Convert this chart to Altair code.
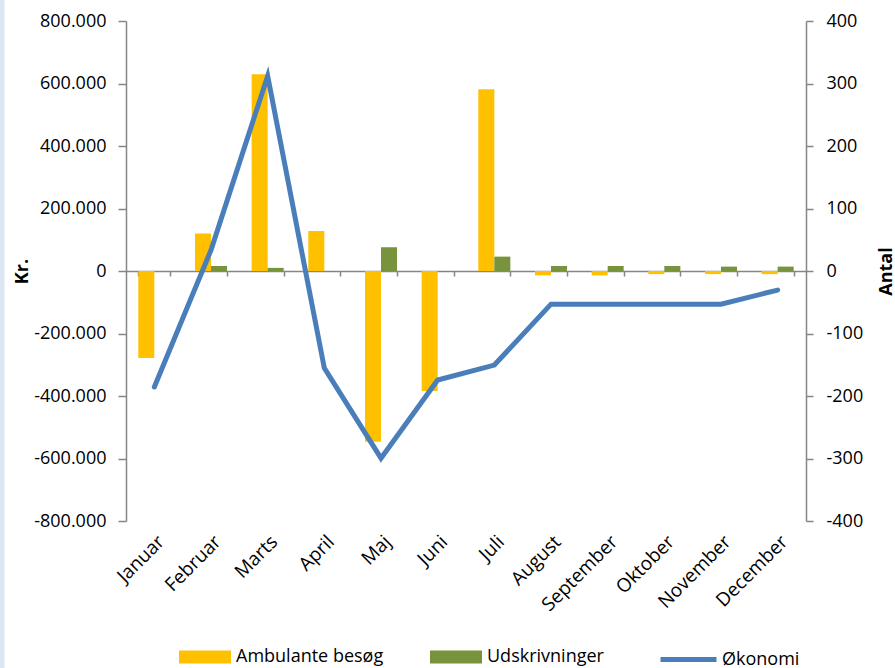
import altair as alt
import pandas as pd

months = ["Januar", "Februar", "Marts", "April", "Maj", "Juni", "Juli",
          "August", "September", "Oktober", "November", "December"]
ambulante = [-139, 60, 315, 64, -273, -192, 291, -7, -7, -5, -5, -5]
udskrivninger = [0, 8, 5, -1, 38, -1, 23, 8, 8, 8, 7, 7]
okonomi = [-371000, 67000, 624000, -311000, -599000, -349000, -301000,
           -106000, -106000, -106000, -106000, -61000]

bar_series = ["Ambulante besøg", "Udskrivninger"]
line_series = ["Økonomi"]
kr_ticks = list(range(-800000, 800001, 200000))
antal_ticks = list(range(-400, 401, 100))

bars_df = pd.DataFrame(
    [{"month": m, "series": bar_series[0], "value": v} for m, v in zip(months, ambulante)]
    + [{"month": m, "series": bar_series[1], "value": v} for m, v in zip(months, udskrivninger)]
)
line_df = pd.DataFrame({"month": months, "value": okonomi, "name": line_series[0]})

FONT = "Open Sans"
GRAY = "#868686"

x_scale = alt.Scale(domain=months, paddingInner=0.435, paddingOuter=0.2175)
x_axis = alt.Axis(
    orient="bottom", offset=-250, title=None, labelAngle=-45, labelPadding=256,
    tickBand="extent", tickSize=5, tickColor=GRAY, tickWidth=1.5,
    domainColor=GRAY, domainWidth=1.5, labelFont=FONT, labelFontSize=19,
    labelColor="#000000", grid=False,
)

bars = alt.Chart(bars_df).mark_bar().encode(
    x=alt.X("month:N", scale=x_scale, sort=months, axis=x_axis),
    xOffset=alt.XOffset("series:N", sort=bar_series,
                        scale=alt.Scale(domain=bar_series, paddingInner=0, paddingOuter=0)),
    y=alt.Y("value:Q", scale=alt.Scale(domain=[-400, 400], nice=False),
            axis=alt.Axis(
                orient="right", values=antal_ticks, title="Antal", grid=False,
                labelExpr="(datum.value < 0 ? '-' : '') + format(abs(datum.value), 'd')",
                tickSize=7, tickColor=GRAY, tickWidth=1.5, domainColor=GRAY, domainWidth=1.5,
                labelPadding=13, labelFont=FONT, labelFontSize=18, labelColor="#000000",
                titleFont=FONT, titleFontSize=18, titleFontWeight="bold", titleColor="#000000",
                titleAngle=270, titleX=80, titleY=250, titleAlign="center", titleBaseline="middle",
            )),
    fill=alt.Fill("series:N", sort=bar_series,
                  scale=alt.Scale(domain=bar_series, range=["#FFC000", "#77933C"]),
                  legend=alt.Legend(
                      title=None, orient="none", direction="horizontal",
                      legendX=53, legendY=610,
                      symbolType="M-1,-0.25H1V0.25H-1Z", symbolSize=2704,
                      symbolStrokeWidth=0, labelFont=FONT, labelFontSize=18,
                      labelColor="#000000", labelOffset=5, columnPadding=46,
                  )),
)

line = alt.Chart(line_df).mark_line(strokeWidth=5, strokeCap="round").encode(
    x=alt.X("month:N", scale=x_scale, sort=months, axis=x_axis),
    y=alt.Y("value:Q", scale=alt.Scale(domain=[-800000, 800000], nice=False),
            axis=alt.Axis(
                orient="left", values=kr_ticks, title="Kr.", grid=False,
                labelExpr="(datum.value < 0 ? '-' : '') + replace(format(abs(datum.value), ',.0f'), ',', '.')",
                tickSize=8, tickColor=GRAY, tickWidth=1.5, domainColor=GRAY, domainWidth=1.5,
                labelPadding=12, labelFont=FONT, labelFontSize=18, labelColor="#000000",
                titleFont=FONT, titleFontSize=18, titleFontWeight="bold", titleColor="#000000",
                titleAngle=270, titleX=-104, titleY=250, titleAlign="center", titleBaseline="middle",
            )),
    stroke=alt.Stroke("name:N", scale=alt.Scale(domain=line_series, range=["#4A7EBB"]),
                      legend=alt.Legend(
                          title=None, orient="none", direction="horizontal",
                          legendX=532, legendY=608, symbolType="stroke", symbolSize=3136,
                          symbolStrokeWidth=5, labelFont=FONT, labelFontSize=18,
                          labelColor="#000000", labelOffset=3,
                      )),
)

strip = alt.Chart(pd.DataFrame({"a": [0]})).mark_rule(color="#DCE6F2", strokeWidth=5).encode(
    x=alt.value(-124), y=alt.value(-21), y2=alt.value(647)
)

chart = alt.layer(bars, line, strip).resolve_scale(
    y="independent", fill="independent", stroke="independent"
).properties(
    width=680, height=500,
    padding={"left": 126, "top": 21, "right": 89, "bottom": 147},
    autosize=alt.AutoSizeParams(type="none"),
    background="#FFFFFF",
).configure_view(stroke=None)

chart.save("out.html", embed_options={"renderer": "svg", "actions": False})
